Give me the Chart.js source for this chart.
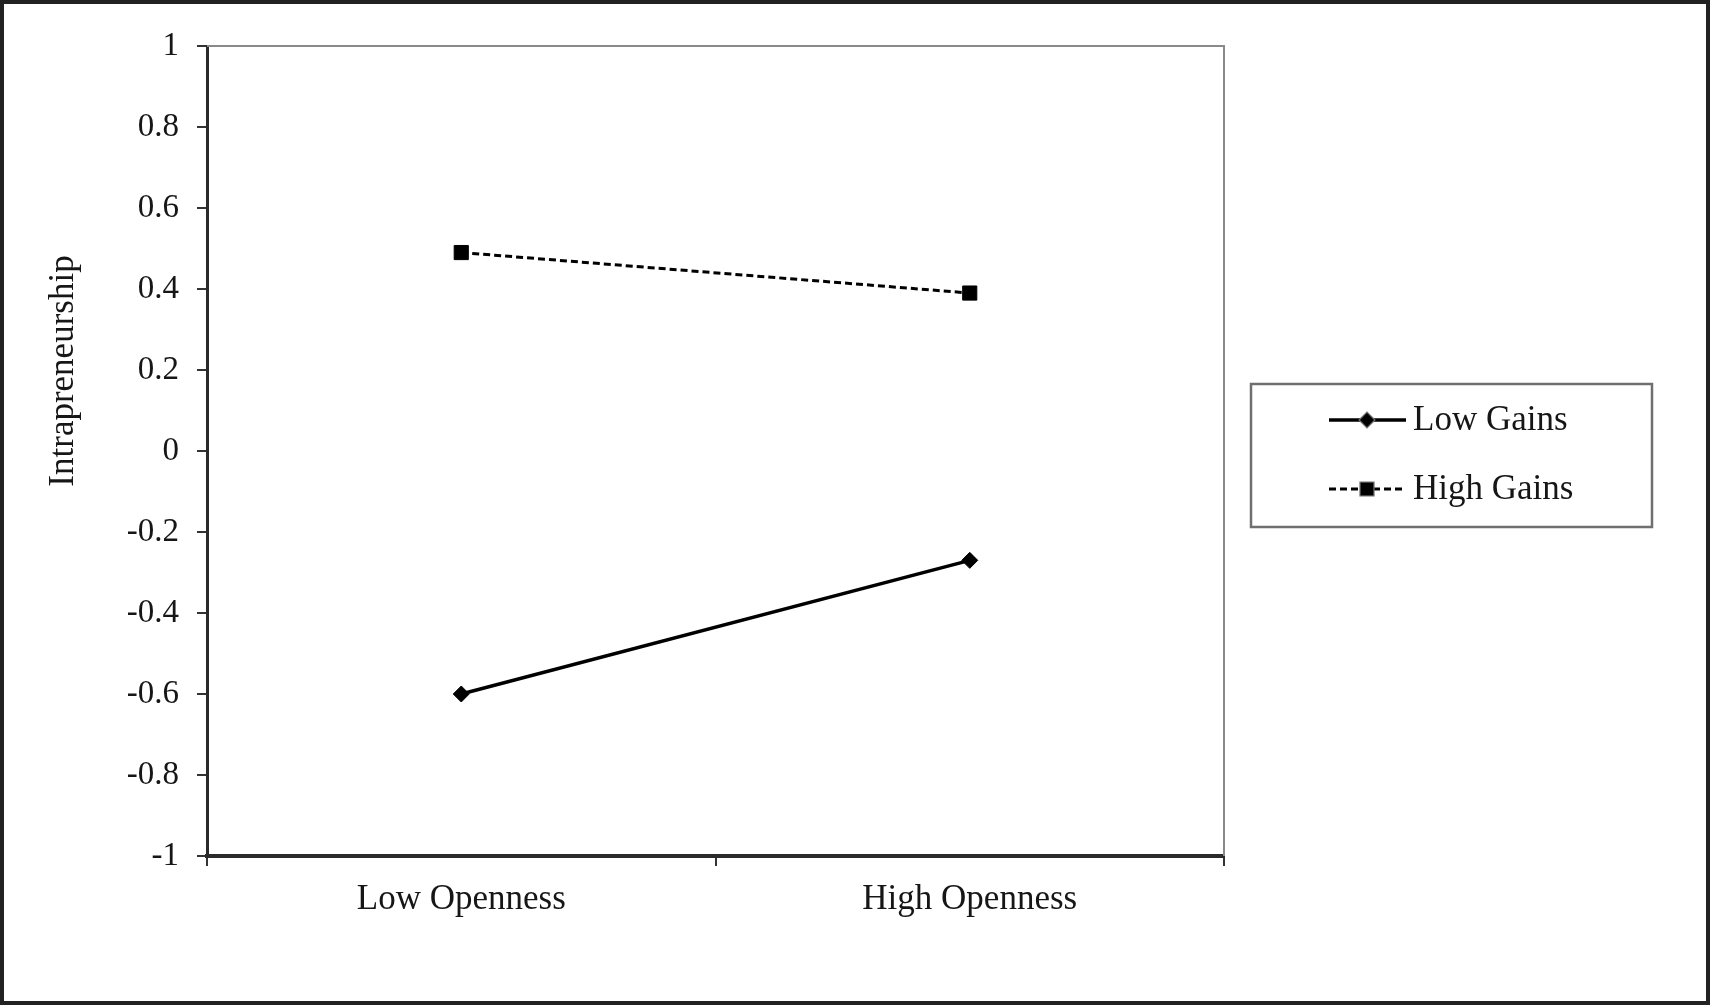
<!DOCTYPE html>
<html>
<head>
<meta charset="utf-8">
<script src="https://cdn.jsdelivr.net/npm/chart.js@4.4.1/dist/chart.umd.min.js"></script>
<style>
  html, body { margin: 0; padding: 0; background: #fff; }
  #wrap { position: relative; width: 1710px; height: 1005px; }
  canvas { display: block; }
</style>
</head>
<body>
<div id="wrap"><canvas id="c" width="1710" height="1005"></canvas></div>
<script>
// ---- data ----
const categories = ['Low Openness', 'High Openness'];
const lowGains = [-0.60, -0.27];
const highGains = [0.49, 0.39];
const seriesNames = ['Low Gains', 'High Gains'];
const yTickLabels = ['-1', '-0.8', '-0.6', '-0.4', '-0.2', '0', '0.2', '0.4', '0.6', '0.8', '1'];
const yTitle = 'Intrapreneurship';

const FONT = '"Liberation Serif", "Times New Roman", serif';
const INK = '#161616';

const frameAndExtras = {
  id: 'frameAndExtras',
  beforeDatasetsDraw(chart) {
    const { ctx, chartArea: a } = chart;
    ctx.save();
    ctx.strokeStyle = '#8a8a8a';
    ctx.lineWidth = 2;
    ctx.beginPath();
    ctx.moveTo(a.left, a.top);
    ctx.lineTo(a.right, a.top);
    ctx.lineTo(a.right, a.bottom);
    ctx.stroke();
    ctx.restore();
  },
  afterDraw(chart) {
    const { ctx, width, height } = chart;
    ctx.save();
    // outer frame
    ctx.strokeStyle = '#222';
    ctx.lineWidth = 4;
    ctx.strokeRect(2, 2, width - 4, height - 4);
    // y title
    ctx.fillStyle = INK;
    ctx.font = '35px ' + FONT;
    ctx.textAlign = 'center';
    ctx.textBaseline = 'middle';
    ctx.translate(64, 371);
    ctx.rotate(-Math.PI / 2);
    ctx.fillText(yTitle, 0, 0);
    ctx.restore();

    // legend
    ctx.save();
    const bx = 1251, by = 384, bw = 401, bh = 143;
    ctx.strokeStyle = '#6f6f6f';
    ctx.lineWidth = 2.5;
    ctx.strokeRect(bx, by, bw, bh);
    const rows = [420, 489];
    chart.data.datasets.forEach((ds, i) => {
      const y = rows[i];
      ctx.save();
      ctx.strokeStyle = ds.borderColor;
      ctx.lineWidth = ds.borderWidth;
      ctx.setLineDash(ds.borderDash || []);
      ctx.beginPath();
      ctx.moveTo(1329, y);
      ctx.lineTo(1406, y);
      ctx.stroke();
      ctx.restore();
      Chart.helpers.drawPoint(ctx, {
        pointStyle: ds.pointStyle,
        radius: ds.pointRadius - 1,
        borderWidth: 1,
        rotation: 0
      }, 1367, y);
      ctx.fillStyle = '#000';
      ctx.fill();
      ctx.fillStyle = INK;
      ctx.font = '35px ' + FONT;
      ctx.textAlign = 'left';
      ctx.textBaseline = 'middle';
      ctx.fillText(ds.label, 1413, y + 1);
    });
    ctx.restore();
  }
};

new Chart(document.getElementById('c'), {
  type: 'line',
  data: {
    labels: categories,
    datasets: [
      {
        label: seriesNames[0],
        data: lowGains,
        borderColor: '#000',
        backgroundColor: '#000',
        borderWidth: 3.5,
        pointStyle: 'rectRot',
        pointRadius: 8,
        pointBorderWidth: 1,
        pointBackgroundColor: '#000',
        pointBorderColor: '#000',
        tension: 0,
        fill: false
      },
      {
        label: seriesNames[1],
        data: highGains,
        borderColor: '#000',
        backgroundColor: '#000',
        borderWidth: 3,
        borderDash: [7, 4],
        pointStyle: 'rect',
        pointRadius: 10,
        pointBorderWidth: 1,
        pointBackgroundColor: '#000',
        pointBorderColor: '#000',
        tension: 0,
        fill: false
      }
    ]
  },
  options: {
    responsive: false,
    animation: false,
    devicePixelRatio: 1,
    layout: { padding: { left: 0, top: 46, right: 486, bottom: 0 } },
    plugins: {
      legend: { display: false },
      tooltip: { enabled: false },
      title: { display: false }
    },
    scales: {
      x: {
        type: 'category',
        offset: true,
        grid: {
          offset: true,
          drawOnChartArea: false,
          drawTicks: true,
          tickLength: 10,
          color: '#333',
          lineWidth: 2
        },
        border: { display: true, color: '#2a2a2a', width: 4 },
        ticks: {
          font: { family: FONT, size: 35 },
          color: INK,
          padding: 13,
          maxRotation: 0
        },
        afterFit(scale) { scale.height = 149; }
      },
      y: {
        min: -1,
        max: 1,
        grid: {
          drawOnChartArea: false,
          drawTicks: true,
          tickLength: 10,
          color: '#333',
          lineWidth: 2
        },
        border: { display: true, color: '#2a2a2a', width: 3 },
        ticks: {
          stepSize: 0.2,
          font: { family: FONT, size: 33 },
          color: INK,
          padding: 18,
          callback: (v, i) => yTickLabels[i]
        },
        afterFit(scale) { scale.width = 207; }
      }
    }
  },
  plugins: [frameAndExtras]
});
</script>
</body>
</html>
